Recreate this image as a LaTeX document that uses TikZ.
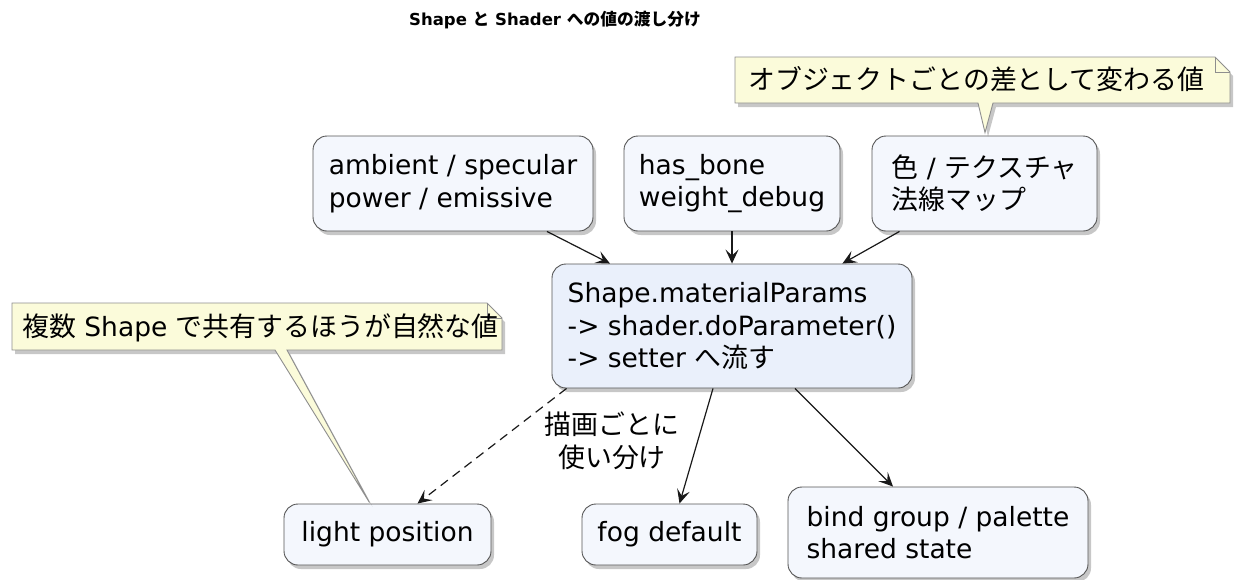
\documentclass[tikz,border=0pt]{standalone}
\usepackage{fontspec}
\setmainfont{DejaVu Sans}
\newfontfamily\jp{Noto Sans CJK JP}[Scale=1.015]
\usetikzlibrary{arrows.meta,shadows,calc}
\definecolor{boxfill}{HTML}{F4F7FD}
\definecolor{midfill}{HTML}{EAF0FB}
\definecolor{boxline}{HTML}{555555}
\definecolor{notefill}{HTML}{FBFBDA}
\definecolor{noteline}{HTML}{8E8E8E}
\tikzset{
  x=1pt,y=-1pt,
  base/.style={font=\fontsize{26.5}{32.5}\selectfont, align=left, inner sep=0pt},
  softshadow/.style={drop shadow={fill=black, opacity=0.22, shadow xshift=3pt, shadow yshift=-4pt}},
  box/.style={base, draw=boxline, line width=0.9pt, fill=boxfill, rounded corners=14pt, softshadow},
  conn/.style={draw=black!90, line width=1.2pt, -{Stealth[length=14pt,width=13pt,inset=6pt]}},
  noteshape/.style={draw=noteline, fill=notefill, line width=0.9pt, line join=miter, softshadow},
}
\begin{document}
\begin{tikzpicture}
\useasboundingbox (0,0) rectangle (1239,579);

% title
\node[inner sep=0pt, font=\bfseries\fontsize{16.5}{16.5}\selectfont] (title) at (555,20)
  {Shape {\jp と} Shader {\jp への値の渡し分け}};

% nodes
\node[box, minimum width=280pt, minimum height=95pt] (A) at (453,183.5)
  {ambient / specular\\power / emissive};
\node[box, minimum width=216pt, minimum height=95pt] (B) at (732,183.5)
  {has\_bone\\weight\_debug};
\node[box, minimum width=225pt, minimum height=95pt] (C) at (984.5,183.5)
  {{\jp 色} / {\jp テクスチャ}\\{\jp 法線マップ}};
\node[box, fill=midfill, minimum width=360pt, minimum height=124pt] (M) at (732,326)
  {Shape.materialParams\\-> shader.doParameter()\\-> setter {\jp へ流す}};
\node[box, minimum width=207pt, minimum height=61pt] (L) at (387.5,534.5)
  {light position};
\node[box, minimum width=175pt, minimum height=61pt] (F) at (669.5,534.5)
  {fog default};
\node[box, minimum width=300pt, minimum height=91pt] (G) at (938,532.5)
  {bind group / palette\\shared state};

% connectors
\draw[conn] (A) -- (M);
\draw[conn] (B) -- (M);
\draw[conn] (C) -- (M);
\draw[conn, dash pattern=on 9pt off 6pt] ($(M.south west)+(15,0)$) -- ($(L.north)+(30,0)$);
\draw[conn] ($(M.south)+(-19,0)$) -- ($(F.north)+(10,0)$);
\draw[conn] ($(M.south)+(63,0)$) -- ($(G.north)+(-45,0)$);

\node[base, align=center] (lab) at (612,441) {{\jp 描画ごとに}\\{\jp 使い分け}};

% note 1
\coordinate (n1tip) at ($(C.north)+(0.5,-3)$);
\path[noteshape] (735,57) -- (1215,57) -- (1230,72) -- (1230,103) -- (993,103) -- (n1tip) -- (978,103) -- (735,103) -- cycle;
\draw[noteline, line width=0.9pt] (1215,57) -- (1215,72) -- (1230,72);
\node[base, anchor=base west] (N1) at (748,89) {\jp オブジェクトごとの差として変わる値};

% note 2
\coordinate (n2tip) at ($(L.north)+(-18,-1)$);
\path[noteshape] (12,303) -- (487,303) -- (502,318) -- (502,350) -- (287,350) -- (n2tip) -- (275,350) -- (12,350) -- cycle;
\draw[noteline, line width=0.9pt] (487,303) -- (487,318) -- (502,318);
\node[base, anchor=base west] (N2) at (22,336) {{\jp 複数} Shape {\jp で共有するほうが自然な値}};
\end{tikzpicture}
\end{document}
